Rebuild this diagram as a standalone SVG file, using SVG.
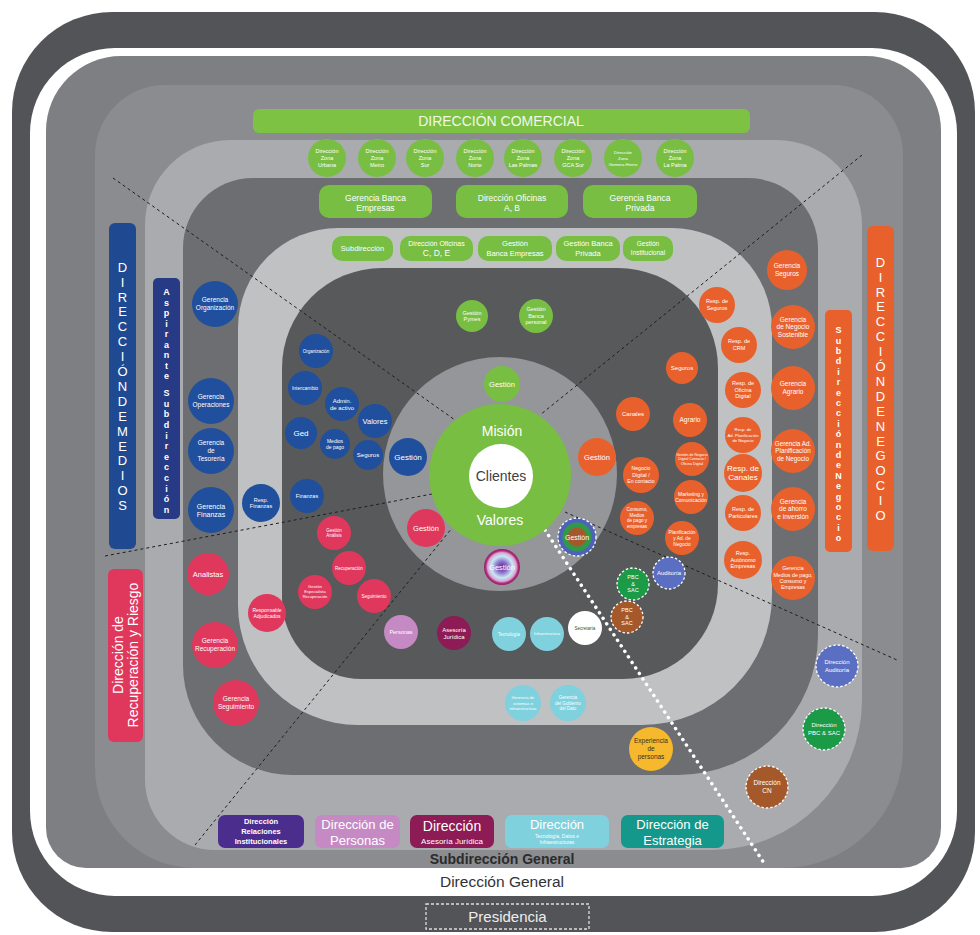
<svg xmlns="http://www.w3.org/2000/svg" width="980" height="935" viewBox="0 0 980 935">
<defs>
<style>
.t{font-family:"Liberation Sans",Arial,sans-serif;fill:#fff;text-anchor:middle}
.b{font-weight:bold}
.gr{fill:#78be43}
.bl{fill:#1f4f9d}
.rd{fill:#e0375c}
.or{fill:#e8612c}
.cy{fill:#7fd1de}
.dl{fill:none;stroke:#1e1e1e;stroke-width:1;stroke-dasharray:3 3}
.wd{fill:none;stroke:#fff;stroke-width:3.5;stroke-dasharray:0.1 6.5;stroke-linecap:round}
.ds{stroke:#fff;stroke-width:1.3;stroke-dasharray:2.5 2}
</style>
<radialGradient id="gPur" cx="0.5" cy="0.5" r="0.5">
<stop offset="0" stop-color="#5b2a96"/>
<stop offset="0.3" stop-color="#8c6ccb"/>
<stop offset="0.6" stop-color="#c5e9f2"/>
<stop offset="0.8" stop-color="#d9a6d4"/>
<stop offset="0.9" stop-color="#b3307e"/>
<stop offset="1" stop-color="#931c66"/>
</radialGradient>
<radialGradient id="gMix" cx="0.5" cy="0.5" r="0.5">
<stop offset="0" stop-color="#a5592a"/>
<stop offset="0.45" stop-color="#a5592a"/>
<stop offset="0.55" stop-color="#2e9a4a"/>
<stop offset="0.72" stop-color="#2e9a4a"/>
<stop offset="0.8" stop-color="#4d62b8"/>
<stop offset="1" stop-color="#4d62b8"/>
</radialGradient>
</defs>

<g id="background">
<rect x="12" y="12" width="963" height="920" rx="100" fill="#525457"/>
<rect x="30" y="48" width="927" height="848" rx="85" fill="#ffffff"/>
<path d="M121,56 H866 A75,75 0 0 1 941,131 V828 A40,40 0 0 1 901,868 H86 A40,40 0 0 1 46,828 V131 A75,75 0 0 1 121,56 Z" fill="#7d7f82"/>
<path d="M165,85 H833 A70,70 0 0 1 903,155 V748 A120,120 0 0 1 783,868 H195 A100,100 0 0 1 95,768 V155 A70,70 0 0 1 165,85 Z" fill="#8a8c8f"/>
<path d="M230,140 H777 A85,85 0 0 1 862,225 V700 A150,150 0 0 1 712,850 H215 A70,70 0 0 1 145,780 V225 A85,85 0 0 1 230,140 Z" fill="#a9abae"/>
<path d="M253,178 H748 A70,70 0 0 1 818,248 V635 A140,140 0 0 1 678,775 H293 A110,110 0 0 1 183,665 V248 A70,70 0 0 1 253,178 Z" fill="#6c6e71"/>
<path d="M338,228 H672 A100,100 0 0 1 772,328 V595 A130,130 0 0 1 642,725 H358 A120,120 0 0 1 238,605 V328 A100,100 0 0 1 338,228 Z" fill="#bfc1c3"/>
<path d="M382,268 H618 A100,100 0 0 1 718,368 V584 A95,95 0 0 1 623,679 H362 A80,80 0 0 1 282,599 V368 A100,100 0 0 1 382,268 Z" fill="#58595b"/>
<circle cx="500" cy="474" r="117" fill="#949699"/>
</g>

<g id="connectors">
<line class="dl" x1="113" y1="178" x2="455" y2="420"/>
<line class="dl" x1="862" y1="155" x2="540" y2="415"/>
<line class="dl" x1="105" y1="556" x2="432" y2="494"/>
<line class="dl" x1="195" y1="845" x2="452" y2="528"/>
<line class="dl" x1="565" y1="512" x2="897" y2="660"/>
<line class="wd" x1="545" y1="530" x2="766" y2="866"/>
</g>

<g id="n-core">
<circle cx="500" cy="475" r="71" class="gr"/>
<circle cx="501" cy="476" r="32" fill="#ffffff"/>
<text class="t" x="502" y="436" font-size="14">Misión</text>
<text class="t" x="501" y="481" font-size="14" style="fill:#3c4048">Clientes</text>
<text class="t" x="500" y="525" font-size="14">Valores</text>
</g>

<g id="n-direccion-comercial">
<rect x="253" y="109" width="497" height="24" rx="6" fill="#7dc243"/>
<text class="t" x="501" y="126" font-size="14" style="fill:#f0f7e8">DIRECCIÓN COMERCIAL</text>
</g>

<g id="n-zonas" font-size="5.5">
<circle cx="327" cy="158" r="19" class="gr"/><text class="t"><tspan x="327" y="152.9">Dirección</tspan><tspan x="327" y="159.9">Zona</tspan><tspan x="327" y="166.9">Urbana</tspan></text>
<circle cx="377" cy="158" r="19" class="gr"/><text class="t"><tspan x="377" y="152.9">Dirección</tspan><tspan x="377" y="159.9">Zona</tspan><tspan x="377" y="166.9">Metro</tspan></text>
<circle cx="425" cy="158" r="19" class="gr"/><text class="t"><tspan x="425" y="152.9">Dirección</tspan><tspan x="425" y="159.9">Zona</tspan><tspan x="425" y="166.9">Sur</tspan></text>
<circle cx="475" cy="158" r="19" class="gr"/><text class="t"><tspan x="475" y="152.9">Dirección</tspan><tspan x="475" y="159.9">Zona</tspan><tspan x="475" y="166.9">Norte</tspan></text>
<circle cx="523" cy="158" r="19" class="gr"/><text class="t"><tspan x="523" y="152.9">Dirección</tspan><tspan x="523" y="159.9">Zona</tspan><tspan x="523" y="166.9">Las Palmas</tspan></text>
<circle cx="573" cy="158" r="19" class="gr"/><text class="t"><tspan x="573" y="152.9">Dirección</tspan><tspan x="573" y="159.9">Zona</tspan><tspan x="573" y="166.9">GCA Sur</tspan></text>
<circle cx="623" cy="158" r="19" class="gr"/><text class="t" font-size="4.3"><tspan x="623" y="153.5">Dirección</tspan><tspan x="623" y="159.5">Zona</tspan><tspan x="623" y="165.5">Gomera-Hierro</tspan></text>
<circle cx="675" cy="158" r="19" class="gr"/><text class="t"><tspan x="675" y="152.9">Dirección</tspan><tspan x="675" y="159.9">Zona</tspan><tspan x="675" y="166.9">La Palma</tspan></text>
</g>

<g id="n-gerencias-comercial" font-size="8.5">
<rect x="319" y="185" width="113" height="33" rx="10" class="gr"/><text class="t"><tspan x="375.5" y="201">Gerencia Banca</tspan><tspan x="375.5" y="211">Empresas</tspan></text>
<rect x="456" y="185" width="112" height="33" rx="10" class="gr"/><text class="t"><tspan x="512" y="201">Dirección Oficinas</tspan><tspan x="512" y="211">A, B</tspan></text>
<rect x="583" y="185" width="114" height="33" rx="10" class="gr"/><text class="t"><tspan x="640" y="201">Gerencia Banca</tspan><tspan x="640" y="211">Privada</tspan></text>
</g>

<g id="n-subdireccion-comercial" font-size="7.5">
<rect x="332" y="236" width="61" height="25" rx="10" class="gr"/><text class="t" x="362.5" y="251">Subdirección</text>
<rect x="400" y="236" width="73" height="25" rx="10" class="gr"/><text class="t"><tspan x="436.5" y="245.5" font-size="7">Dirección Oficinas</tspan><tspan x="436.5" y="256" font-size="8.5">C, D, E</tspan></text>
<rect x="478" y="236" width="74" height="25" rx="10" class="gr"/><text class="t"><tspan x="515" y="245.5">Gestión</tspan><tspan x="515" y="255.5">Banca Empresas</tspan></text>
<rect x="556" y="236" width="64" height="25" rx="10" class="gr"/><text class="t"><tspan x="588" y="245.5">Gestión Banca</tspan><tspan x="588" y="255.5">Privada</tspan></text>
<rect x="623" y="236" width="50" height="25" rx="10" class="gr"/><text class="t" font-size="6.5"><tspan x="648" y="245.5">Gestión</tspan><tspan x="648" y="255">Institucional</tspan></text>
</g>

<g id="n-gestion-verde" font-size="5.5">
<circle cx="472" cy="316" r="16" class="gr"/><text class="t"><tspan x="472" y="314.7">Gestión</tspan><tspan x="472" y="321.2">Pymes</tspan></text>
<circle cx="536" cy="316" r="17" class="gr"/><text class="t"><tspan x="536" y="311.4">Gestión</tspan><tspan x="536" y="317.9">Banca</tspan><tspan x="536" y="324.4">personal</tspan></text>
</g>

<g id="n-gestion-centro">
<circle cx="502" cy="384" r="18" class="gr"/><text class="t" x="502" y="386.6" font-size="7.5">Gestión</text>
<circle cx="597" cy="457" r="19" class="or"/><text class="t" x="597" y="459.6" font-size="7.5">Gestión</text>
<circle cx="408" cy="457" r="19" class="bl"/><text class="t" x="408" y="459.8" font-size="8">Gestión</text>
<circle cx="426" cy="528" r="19" class="rd"/><text class="t" x="426" y="530.6" font-size="7.5">Gestión</text>
<circle cx="502" cy="567" r="18" fill="url(#gPur)"/><text class="t" x="502" y="569.6" font-size="7.5">Gestión</text>
<circle cx="577" cy="537" r="19" fill="url(#gMix)" class="ds"/><text class="t" x="577" y="539.5" font-size="7">Gestión</text>
</g>

<g id="n-medios-interno">
<circle cx="316" cy="351" r="17" class="bl"/><text class="t" x="316" y="352.6" font-size="4.5">Organización</text>
<circle cx="305" cy="388" r="17" class="bl"/><text class="t" x="305" y="389.8" font-size="5">Intercambio</text>
<circle cx="342" cy="404" r="17" class="bl"/><text class="t" font-size="6"><tspan x="342" y="402.6">Admin.</tspan><tspan x="342" y="409.6">de activo</tspan></text>
<circle cx="375" cy="421" r="17" class="bl"/><text class="t" x="375" y="423.6" font-size="7.5">Valores</text>
<circle cx="301" cy="433" r="16" class="bl"/><text class="t" x="301" y="435.8" font-size="8">Ged</text>
<circle cx="335" cy="444" r="15" class="bl"/><text class="t" font-size="5"><tspan x="335" y="442.8">Medios</tspan><tspan x="335" y="448.8">de pago</tspan></text>
<circle cx="368" cy="455" r="15" class="bl"/><text class="t" x="368" y="457.1" font-size="6">Seguros</text>
<circle cx="307" cy="496" r="17" class="bl"/><text class="t" x="307" y="497.9" font-size="5.5">Finanzas</text>
</g>

<g id="n-direccion-medios">
<rect x="109" y="223" width="27" height="326" rx="6" fill="#1f4a92"/>
<text class="t" font-size="13"><tspan x="122.5" y="271.7">D</tspan><tspan x="122.5" y="286.6">I</tspan><tspan x="122.5" y="301.5">R</tspan><tspan x="122.5" y="316.4">E</tspan><tspan x="122.5" y="331.3">C</tspan><tspan x="122.5" y="346.2">C</tspan><tspan x="122.5" y="361.1">I</tspan><tspan x="122.5" y="376">Ó</tspan><tspan x="122.5" y="390.9">N</tspan><tspan x="122.5" y="405.8">D</tspan><tspan x="122.5" y="420.7">E</tspan><tspan x="122.5" y="435.6">M</tspan><tspan x="122.5" y="450.5">E</tspan><tspan x="122.5" y="465.4">D</tspan><tspan x="122.5" y="480.3">I</tspan><tspan x="122.5" y="495.2">O</tspan><tspan x="122.5" y="510.1">S</tspan></text>
</g>

<g id="n-aspirante">
<rect x="153" y="278" width="27" height="241" rx="5" fill="#273a85"/>
<text class="t b" font-size="9"><tspan x="166.5" y="295.2">A</tspan><tspan x="166.5" y="305.7">s</tspan><tspan x="166.5" y="316.2">p</tspan><tspan x="166.5" y="326.7">i</tspan><tspan x="166.5" y="337.2">r</tspan><tspan x="166.5" y="347.7">a</tspan><tspan x="166.5" y="358.2">n</tspan><tspan x="166.5" y="368.7">t</tspan><tspan x="166.5" y="379.2">e</tspan><tspan x="166.5" y="396.2">S</tspan><tspan x="166.5" y="406.8">u</tspan><tspan x="166.5" y="417.4">b</tspan><tspan x="166.5" y="428">d</tspan><tspan x="166.5" y="438.6">i</tspan><tspan x="166.5" y="449.2">r</tspan><tspan x="166.5" y="459.8">e</tspan><tspan x="166.5" y="470.4">c</tspan><tspan x="166.5" y="481">c</tspan><tspan x="166.5" y="491.6">i</tspan><tspan x="166.5" y="502.2">ó</tspan><tspan x="166.5" y="512.8">n</tspan></text>
</g>

<g id="n-gerencias-medios" font-size="6.5">
<circle cx="215" cy="304" r="23" class="bl"/><text class="t"><tspan x="215" y="302.3">Gerencia</tspan><tspan x="215" y="310.3">Organización</tspan></text>
<circle cx="211" cy="401" r="23" class="bl"/><text class="t"><tspan x="211" y="399.3">Gerencia</tspan><tspan x="211" y="407.3">Operaciones</tspan></text>
<circle cx="211" cy="451" r="23" class="bl"/><text class="t"><tspan x="211" y="445.3">Gerencia</tspan><tspan x="211" y="453.3">de</tspan><tspan x="211" y="461.3">Tesorería</tspan></text>
<circle cx="211" cy="510" r="23" class="bl"/><text class="t" font-size="7"><tspan x="211" y="508.5">Gerencia</tspan><tspan x="211" y="516.5">Finanzas</tspan></text>
<circle cx="261" cy="503" r="19" class="bl"/><text class="t" font-size="5.5"><tspan x="261" y="501.7">Resp.</tspan><tspan x="261" y="508.2">Finanzas</tspan></text>
</g>

<g id="n-recuperacion">
<rect x="108" y="569" width="35" height="173" rx="6" fill="#e0375c"/>
<text class="t" font-size="14" transform="translate(123,655) rotate(-90)">Dirección de</text>
<text class="t" font-size="14" transform="translate(138,655) rotate(-90)">Recuperación y Riesgo</text>
<circle cx="208" cy="574" r="21" class="rd"/><text class="t" x="208" y="576.6" font-size="7.5">Analistas</text>
<circle cx="215" cy="645" r="23" class="rd"/><text class="t" font-size="6.5"><tspan x="215" y="643.3">Gerencia</tspan><tspan x="215" y="651.3">Recuperación</tspan></text>
<circle cx="236" cy="703" r="23" class="rd"/><text class="t" font-size="6.5"><tspan x="236" y="701.3">Gerencia</tspan><tspan x="236" y="709.3">Seguimiento</tspan></text>
<circle cx="267" cy="613" r="19" class="rd"/><text class="t" font-size="5"><tspan x="267" y="611.5">Responsable</tspan><tspan x="267" y="618">Adjudicados</tspan></text>
<circle cx="334" cy="533" r="17" class="rd"/><text class="t" font-size="4.5"><tspan x="334" y="531.8">Gestión</tspan><tspan x="334" y="537.3">Análisis</tspan></text>
<circle cx="349" cy="568" r="17" class="rd"/><text class="t" x="349" y="569.6" font-size="4.5">Recuperación</text>
<circle cx="315" cy="592" r="17" class="rd"/><text class="t" font-size="4"><tspan x="315" y="588.4">Gestión</tspan><tspan x="315" y="593.4">Especialista</tspan><tspan x="315" y="598.4">Recuperación</tspan></text>
<circle cx="374" cy="596" r="17" class="rd"/><text class="t" x="374" y="597.6" font-size="4.5">Seguimiento</text>
</g>

<g id="n-soporte">
<circle cx="401" cy="632" r="17" fill="#c58ac3"/><text class="t" x="401" y="633.9" font-size="5.5">Personas</text>
<circle cx="454" cy="633" r="17" fill="#8d1b55"/><text class="t" font-size="6"><tspan x="454" y="631.6">Asesoría</tspan><tspan x="454" y="638.6">Jurídica</tspan></text>
<circle cx="509" cy="634" r="17" class="cy"/><text class="t" x="509" y="635.6" font-size="4.5">Tecnología</text>
<circle cx="547" cy="634" r="17" class="cy"/><text class="t" x="547" y="635.4" font-size="4">Infraestructura</text>
<circle cx="585" cy="628" r="17" fill="#ffffff"/><text class="t" x="585" y="629.6" font-size="4.5" style="fill:#1d5a2a">Secretaría</text>
<circle cx="523" cy="703" r="18" class="cy"/><text class="t" font-size="4.2"><tspan x="523" y="699.3">Gerencia de</tspan><tspan x="523" y="704.5">sistemas e</tspan><tspan x="523" y="709.7">infraestructura</tspan></text>
<circle cx="568" cy="703" r="18" class="cy"/><text class="t" font-size="4.5"><tspan x="568" y="699.1">Gerencia</tspan><tspan x="568" y="704.6">del Gobierno</tspan><tspan x="568" y="710.1">del Dato</tspan></text>
<circle cx="651" cy="749" r="22" fill="#f6b82c"/><text class="t" font-size="6.5" style="fill:#3a3020"><tspan x="651" y="743.3">Experiencia</tspan><tspan x="651" y="751.3">de</tspan><tspan x="651" y="759.3">personas</tspan></text>
<circle cx="633" cy="584" r="16" fill="#1b9a48" class="ds"/><text class="t" font-size="5.5"><tspan x="633" y="579.4">PBC</tspan><tspan x="633" y="585.9">&amp;</tspan><tspan x="633" y="592.4">SAC</tspan></text>
<circle cx="669" cy="573" r="16" fill="#5a6ec2" class="ds"/><text class="t" x="669" y="575.1" font-size="6">Auditoría</text>
<circle cx="627" cy="617" r="16" fill="#a5592a" class="ds"/><text class="t" font-size="5.5"><tspan x="627" y="612.4">PBC</tspan><tspan x="627" y="618.9">&amp;</tspan><tspan x="627" y="625.4">SAC</tspan></text>
</g>

<g id="n-negocio-interno">
<circle cx="682" cy="368" r="16" class="or"/><text class="t" x="682" y="370.1" font-size="6">Seguros</text>
<circle cx="633" cy="414" r="17" class="or"/><text class="t" x="633" y="416.1" font-size="6">Canales</text>
<circle cx="690" cy="420" r="17" class="or"/><text class="t" x="690" y="422.3" font-size="6.5">Agrario</text>
<circle cx="641" cy="475" r="18" class="or"/><text class="t" font-size="5.2"><tspan x="641" y="470.3">Negocio</tspan><tspan x="641" y="476.8">Digital /</tspan><tspan x="641" y="483.3">En contacto</tspan></text>
<circle cx="692" cy="459" r="17" class="or"/><text class="t" font-size="3.6"><tspan x="692" y="455.7">Gestión de Negocio</tspan><tspan x="692" y="460.3">Digital Contacto /</tspan><tspan x="692" y="464.9">Oficina Digital</tspan></text>
<circle cx="691" cy="497" r="17" class="or"/><text class="t" font-size="5"><tspan x="691" y="495.8">Marketing y</tspan><tspan x="691" y="501.8">Comunicación</tspan></text>
<circle cx="637" cy="518" r="17" class="or"/><text class="t" font-size="4.6"><tspan x="637" y="511.2">Consumo,</tspan><tspan x="637" y="516.8">Medios</tspan><tspan x="637" y="522.4">de pago y</tspan><tspan x="637" y="528">empresas</tspan></text>
<circle cx="682" cy="538" r="17" class="or"/><text class="t" font-size="4.8"><tspan x="682" y="533.9">Planificación</tspan><tspan x="682" y="539.7">y Ad. de</tspan><tspan x="682" y="545.5">Negocio</tspan></text>
</g>

<g id="n-resp-negocio" font-size="5.5">
<circle cx="717" cy="305" r="18" class="or"/><text class="t"><tspan x="717" y="303.4">Resp. de</tspan><tspan x="717" y="310.4">Seguros</tspan></text>
<circle cx="739" cy="345" r="18" class="or"/><text class="t"><tspan x="739" y="343.4">Resp. de</tspan><tspan x="739" y="350.4">CRM</tspan></text>
<circle cx="743" cy="390" r="18" class="or"/><text class="t"><tspan x="743" y="385.4">Resp. de</tspan><tspan x="743" y="391.9">Oficina</tspan><tspan x="743" y="398.4">Digital</tspan></text>
<circle cx="743" cy="435" r="18" class="or"/><text class="t" font-size="4.2"><tspan x="743" y="431.3">Resp. de</tspan><tspan x="743" y="436.5">Ad. Planificación</tspan><tspan x="743" y="441.7">de Negocio</tspan></text>
<circle cx="743" cy="473" r="19" class="or"/><text class="t" font-size="8"><tspan x="743" y="471.3">Resp. de</tspan><tspan x="743" y="480.3">Canales</tspan></text>
<circle cx="743" cy="513" r="18" class="or"/><text class="t"><tspan x="743" y="511.4">Resp. de</tspan><tspan x="743" y="518.4">Particulares</tspan></text>
<circle cx="743" cy="560" r="19" class="or"/><text class="t"><tspan x="743" y="555.4">Resp.</tspan><tspan x="743" y="561.9">Autónomo</tspan><tspan x="743" y="568.4">Empresas</tspan></text>
</g>

<g id="n-gerencias-negocio" font-size="6.5">
<circle cx="787" cy="270" r="20" class="or"/><text class="t"><tspan x="787" y="268.3">Gerencia</tspan><tspan x="787" y="276.3">Seguros</tspan></text>
<circle cx="793" cy="327" r="22" class="or"/><text class="t"><tspan x="793" y="321.8">Gerencia</tspan><tspan x="793" y="329.3">de Negocio</tspan><tspan x="793" y="336.8">Sostenible</tspan></text>
<circle cx="793" cy="388" r="22" class="or"/><text class="t"><tspan x="793" y="386.3">Gerencia</tspan><tspan x="793" y="394.3">Agrario</tspan></text>
<circle cx="793" cy="451" r="22" class="or"/><text class="t" font-size="6.3"><tspan x="793" y="445.7">Gerencia Ad.</tspan><tspan x="793" y="453.2">Planificación</tspan><tspan x="793" y="460.7">de Negocio</tspan></text>
<circle cx="793" cy="509" r="22" class="or"/><text class="t"><tspan x="793" y="503.8">Gerencia</tspan><tspan x="793" y="511.3">de ahorro</tspan><tspan x="793" y="518.8">e inversión</tspan></text>
<circle cx="793" cy="578" r="22" class="or"/><text class="t" font-size="5.3"><tspan x="793" y="570.4">Gerencia</tspan><tspan x="793" y="576.7">Medios de pago,</tspan><tspan x="793" y="583">Consumo y</tspan><tspan x="793" y="589.3">Empresas</tspan></text>
</g>

<g id="n-subdireccion-negocio">
<rect x="825" y="310" width="27" height="242" rx="5" fill="#e8612c"/>
<text class="t b" font-size="9"><tspan x="838.5" y="333.2">S</tspan><tspan x="838.5" y="343.6">u</tspan><tspan x="838.5" y="354">b</tspan><tspan x="838.5" y="364.4">d</tspan><tspan x="838.5" y="374.8">i</tspan><tspan x="838.5" y="385.2">r</tspan><tspan x="838.5" y="395.6">e</tspan><tspan x="838.5" y="406">c</tspan><tspan x="838.5" y="416.4">c</tspan><tspan x="838.5" y="426.8">i</tspan><tspan x="838.5" y="437.2">ó</tspan><tspan x="838.5" y="447.6">n</tspan><tspan x="838.5" y="458">d</tspan><tspan x="838.5" y="468.4">e</tspan><tspan x="838.5" y="478.8">N</tspan><tspan x="838.5" y="489.2">e</tspan><tspan x="838.5" y="499.6">g</tspan><tspan x="838.5" y="510">o</tspan><tspan x="838.5" y="520.4">c</tspan><tspan x="838.5" y="530.8">i</tspan><tspan x="838.5" y="541.2">o</tspan></text>
</g>

<g id="n-direccion-negocio">
<rect x="867" y="226" width="27" height="325" rx="6" fill="#e8612c"/>
<text class="t" font-size="13"><tspan x="880.5" y="266.7">D</tspan><tspan x="880.5" y="281.6">I</tspan><tspan x="880.5" y="296.5">R</tspan><tspan x="880.5" y="311.4">E</tspan><tspan x="880.5" y="326.3">C</tspan><tspan x="880.5" y="341.2">C</tspan><tspan x="880.5" y="356.1">I</tspan><tspan x="880.5" y="371">Ó</tspan><tspan x="880.5" y="385.9">N</tspan><tspan x="880.5" y="400.8">D</tspan><tspan x="880.5" y="415.7">E</tspan><tspan x="880.5" y="430.6">N</tspan><tspan x="880.5" y="445.5">E</tspan><tspan x="880.5" y="460.4">G</tspan><tspan x="880.5" y="475.3">O</tspan><tspan x="880.5" y="490.2">C</tspan><tspan x="880.5" y="505.1">I</tspan><tspan x="880.5" y="520">O</tspan></text>
</g>

<g id="n-direcciones-control" font-size="6">
<circle cx="837" cy="666" r="21" fill="#5a6ec2" class="ds"/><text class="t"><tspan x="837" y="664.1">Dirección</tspan><tspan x="837" y="672.1">Auditoría</tspan></text>
<circle cx="824" cy="729" r="21" fill="#1b9a48" class="ds"/><text class="t"><tspan x="824" y="727.1">Dirección</tspan><tspan x="824" y="735.1">PBC &amp; SAC</tspan></text>
<circle cx="767" cy="787" r="21" fill="#a5592a" class="ds"/><text class="t" font-size="6.5"><tspan x="767" y="785.3">Dirección</tspan><tspan x="767" y="793.3">CN</tspan></text>
</g>

<g id="n-direcciones-staff">
<rect x="218" y="815" width="86" height="33" rx="7" fill="#4a2d8c"/><text class="t b" font-size="7.5"><tspan x="261" y="823.5">Dirección</tspan><tspan x="261" y="833.5">Relaciones</tspan><tspan x="261" y="843.5">Institucionales</tspan></text>
<rect x="315" y="815" width="85" height="33" rx="7" fill="#c58ac3"/><text class="t" font-size="13"><tspan x="357.5" y="828.5">Dirección de</tspan><tspan x="357.5" y="844.5">Personas</tspan></text>
<rect x="410" y="815" width="84" height="33" rx="7" fill="#8d1b55"/><text class="t"><tspan x="452" y="831" font-size="14">Dirección</tspan><tspan x="452" y="843.5" font-size="8">Asesoría Jurídica</tspan></text>
<rect x="505" y="815" width="104" height="33" rx="7" fill="#7fd1de"/><text class="t"><tspan x="557" y="829" font-size="13">Dirección</tspan><tspan x="557" y="837.5" font-size="5">Tecnología, Datos e</tspan><tspan x="557" y="844" font-size="5">Infraestructuras</tspan></text>
<rect x="621" y="815" width="103" height="33" rx="7" fill="#15988c"/><text class="t" font-size="13"><tspan x="672.5" y="828.5">Dirección de</tspan><tspan x="672.5" y="844.5">Estrategia</tspan></text>
</g>

<g id="n-subdireccion-general">
<text class="t b" x="502" y="864" font-size="14" style="fill:#2b2b2b">Subdirección General</text>
</g>
<g id="n-direccion-general">
<text class="t" x="502" y="887" font-size="15.5" style="fill:#333333">Dirección General</text>
</g>
<g id="n-presidencia">
<rect x="426" y="904" width="163" height="25" fill="none" stroke="#dddddd" stroke-width="1.3" stroke-dasharray="3 2"/>
<text class="t" x="507.5" y="922" font-size="15" style="fill:#eeeeee">Presidencia</text>
</g>
</svg>
